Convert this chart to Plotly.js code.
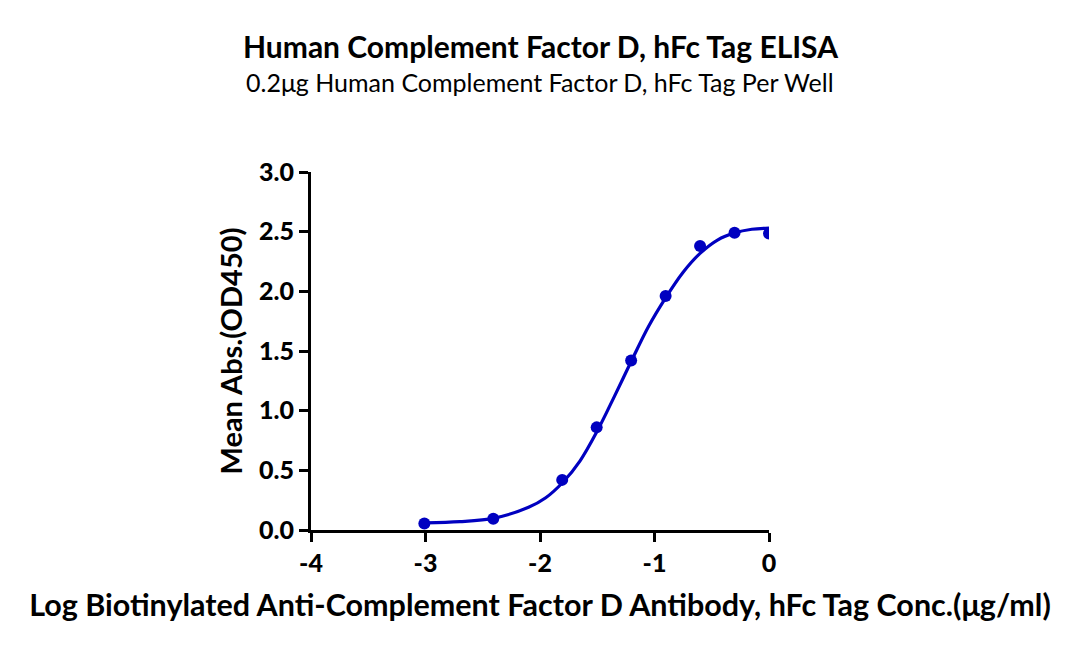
<!DOCTYPE html>
<html><head><meta charset="utf-8">
<script src="https://cdn.plot.ly/plotly-3.0.1.min.js"></script>
<style>body{margin:0;background:#fff}#chart{width:1080px;height:650px}</style>
</head><body><div id="chart"></div>
<script>
// Measured data points
const logConc = [-3.010, -2.408, -1.806, -1.505, -1.204, -0.903, -0.602, -0.301, 0];
const meanAbs = [0.055, 0.095, 0.42, 0.86, 1.42, 1.96, 2.38, 2.49, 2.485];
// Fitted curve
const curveX = [-3.0, -2.7, -2.4, -2.1, -1.95, -1.8, -1.65, -1.5, -1.35, -1.2, -1.05, -0.9, -0.75, -0.6, -0.45, -0.3, -0.15, 0];
const curveY = [0.06, 0.07, 0.10, 0.19, 0.27, 0.40, 0.58, 0.83, 1.12, 1.42, 1.71, 1.95, 2.16, 2.32, 2.43, 2.49, 2.52, 2.53];
const xTicks = [-4, -3, -2, -1, 0];
const yTicks = [0, 0.5, 1.0, 1.5, 2.0, 2.5, 3.0];

const blue = '#0000c0';
const font = 'Lato, "Noto Sans", sans-serif';

const traces = [
  {x: curveX, y: curveY, mode: 'lines', line: {color: blue, width: 3.2, shape: 'spline', smoothing: 1}, hoverinfo: 'skip', showlegend: false},
  {x: logConc, y: meanAbs, mode: 'markers', marker: {color: blue, size: 12}, showlegend: false}
];

const layout = {
  width: 1080, height: 650,
  margin: {l: 311, r: 311, t: 172, b: 120},
  paper_bgcolor: '#fff', plot_bgcolor: '#fff',
  font: {family: font, color: '#000'},
  xaxis: {
    range: [-4, 0], tickvals: xTicks, ticktext: xTicks.map(String),
    showgrid: false, zeroline: false, showline: true, linecolor: '#000', linewidth: 3,
    ticks: 'outside', ticklen: 9, tickwidth: 3, tickcolor: '#000',
    tickfont: {size: 25, family: font, weight: 900},
    title: {text: '<b>Log Biotinylated Anti-Complement Factor D Antibody, hFc Tag Conc.(μg/ml)</b>', font: {size: 30.5, family: font}, standoff: 19}
  },
  yaxis: {
    range: [0, 3], tickvals: yTicks, ticktext: yTicks.map(v => v.toFixed(1)),
    showgrid: false, zeroline: false, showline: true, linecolor: '#000', linewidth: 3,
    ticks: 'outside', ticklen: 9, tickwidth: 3, tickcolor: '#000',
    tickfont: {size: 25, family: font, weight: 900},
    title: {text: '<b>Mean Abs.(OD450)</b>', font: {size: 29, family: font}, standoff: 8}
  },
  annotations: [
    {text: '<b>Human Complement Factor D, hFc Tag ELISA</b>', xref: 'paper', yref: 'paper', x: 0.5, y: 1, yshift: 0,
     xanchor: 'center', yanchor: 'middle', showarrow: false, font: {size: 30, family: font}},
    {text: '0.2μg Human Complement Factor D, hFc Tag Per Well', xref: 'paper', yref: 'paper', x: 0.5, y: 1,
     xanchor: 'center', yanchor: 'middle', showarrow: false, font: {size: 25, family: font}}
  ]
};
// position title annotations in pixels relative to plot area top (172)
layout.annotations[0].yshift = 172 - 46;
layout.annotations[1].yshift = 172 - 82;

Plotly.newPlot('chart', traces, layout, {displayModeBar: false, staticPlot: true});
</script></body></html>
